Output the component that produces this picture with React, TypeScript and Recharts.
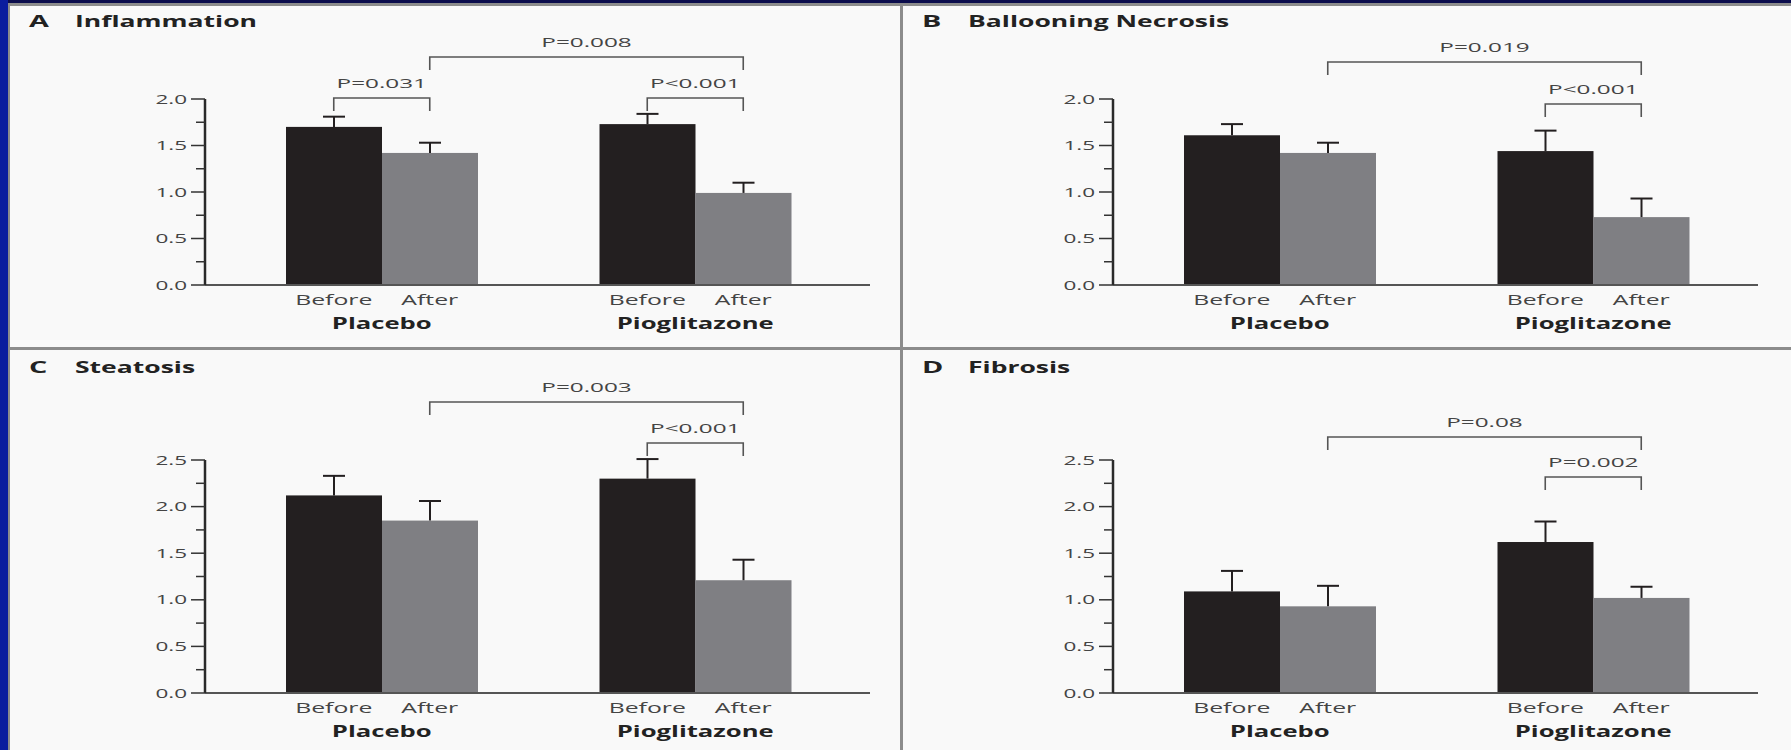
import React from 'react';
import { BarChart, Bar, XAxis, YAxis } from 'recharts';

// group / phase labels
const GROUPS = ['Placebo', 'Pioglitazone'];
const PHASES = ['Before', 'After'];

// mean scores, per group (Placebo, Pioglitazone)
const inflammationBefore = [1.7, 1.73];
const inflammationBeforeErr = [0.11, 0.11];
const inflammationAfter = [1.42, 0.99];
const inflammationAfterErr = [0.11, 0.11];
const inflammationP = ['P=0.031', 'P<0.001', 'P=0.008'];

const ballooningBefore = [1.61, 1.44];
const ballooningBeforeErr = [0.12, 0.22];
const ballooningAfter = [1.42, 0.73];
const ballooningAfterErr = [0.11, 0.2];
const ballooningP = [null, 'P<0.001', 'P=0.019'];

const steatosisBefore = [2.12, 2.3];
const steatosisBeforeErr = [0.21, 0.21];
const steatosisAfter = [1.85, 1.21];
const steatosisAfterErr = [0.21, 0.22];
const steatosisP = [null, 'P<0.001', 'P=0.003'];

const fibrosisBefore = [1.09, 1.62];
const fibrosisBeforeErr = [0.22, 0.22];
const fibrosisAfter = [0.93, 1.02];
const fibrosisAfterErr = [0.22, 0.12];
const fibrosisP = [null, 'P=0.002', 'P=0.08'];

const TICKS_2 = [0, 0.25, 0.5, 0.75, 1, 1.25, 1.5, 1.75, 2];
const TICKS_25 = [0, 0.25, 0.5, 0.75, 1, 1.25, 1.5, 1.75, 2, 2.25, 2.5];

const INK = '#231f20';
const GREY_BAR = '#7f7f83';
const FONT = '"Open Sans", sans-serif';
const SX = 1.8; // horizontal stretch of the lettering
const BAR = 96;
const XAXIS_H = 60;
const YAXIS_W = 60;

const rows = (before: number[], beforeErr: number[], after: number[], afterErr: number[]) =>
  GROUPS.map((group, i) => ({
    group,
    before: before[i],
    beforeErr: beforeErr[i],
    after: after[i],
    afterErr: afterErr[i],
  }));

// bar plus an upward-only error whisker, scaled off the bar's own height
const WhiskerBar = (props: any) => {
  const { x, y, width, height, fill, payload, valueKey, errKey } = props;
  const v = payload[valueKey];
  const err = payload[errKey];
  const k = v ? height / v : 0;
  const top = y - err * k;
  const cx = x + width / 2;
  return (
    <g>
      <rect x={x} y={y} width={width} height={height} fill={fill} />
      <line x1={cx} x2={cx} y1={y} y2={top} stroke={INK} strokeWidth={2} />
      <line x1={cx - 11} x2={cx + 11} y1={top} y2={top} stroke={INK} strokeWidth={2} />
    </g>
  );
};

const YTick = (props: any) => {
  const { x, y, payload } = props;
  const axisX = x + 18;
  const major = Math.round(payload.value * 100) % 50 === 0;
  return (
    <g>
      <line x1={axisX - (major ? 14 : 9)} x2={axisX} y1={y} y2={y} stroke="#333" strokeWidth={1.5} />
      {major && (
        <text
          transform={`translate(${x},${y + 4.5}) scale(${SX},1)`}
          textAnchor="end"
          fontSize={12.5}
          fontFamily={FONT}
          fill="#444"
        >
          {payload.value.toFixed(1)}
        </text>
      )}
    </g>
  );
};

const GroupTick = (props: any) => {
  const { x, y, payload } = props;
  return (
    <g>
      {PHASES.map((ph, i) => (
        <text
          key={ph}
          transform={`translate(${x + (i === 0 ? -BAR / 2 : BAR / 2)},${y + 20}) scale(${SX * 0.95},1)`}
          textAnchor="middle"
          fontSize={14.5}
          fontFamily={FONT}
          fill="#444"
        >
          {ph}
        </text>
      ))}
      <text
        transform={`translate(${x},${y + 44}) scale(${SX * 0.92},1)`}
        textAnchor="middle"
        fontSize={15.5}
        fontWeight={700}
        fontFamily={FONT}
        fill="#222"
      >
        {payload.value}
      </text>
    </g>
  );
};

type PanelProps = {
  letter: string;
  title: string;
  data: ReturnType<typeof rows>;
  pLabels: (string | null)[];
  ticks: number[];
  left: number;
  top: number;
  width: number;
  height: number;
  plotLeft: number;
  plotRight: number;
  plotTop: number;
  plotBottom: number;
  padL: number;
  padR: number;
  titleY: number;
  betweenY: number;
  withinY: number;
};

const Bracket = ({ x1, x2, y, label }: { x1: number; x2: number; y: number; label: string }) => (
  <g>
    <polyline
      points={`${x1},${y + 13} ${x1},${y} ${x2},${y} ${x2},${y + 13}`}
      fill="none"
      stroke="#555"
      strokeWidth={1.6}
    />
    <text
      transform={`translate(${(x1 + x2) / 2},${y - 10}) scale(${SX},1)`}
      textAnchor="middle"
      fontSize={13.5}
      fontFamily={FONT}
      fill="#444"
    >
      {label}
    </text>
  </g>
);

const Panel = (p: PanelProps) => {
  const yMax = p.ticks[p.ticks.length - 1];
  const band = (p.plotRight - p.plotLeft - p.padL - p.padR) / GROUPS.length;
  const barCenter = (g: number, phase: number) =>
    p.plotLeft + p.padL + band * (g + 0.5) + (phase === 0 ? -BAR / 2 : BAR / 2);
  const [withinPlacebo, withinPio, between] = p.pLabels;

  return (
    <div
      style={{
        position: 'absolute',
        left: p.left,
        top: p.top,
        width: p.width,
        height: p.height,
        background: '#f9f9f9',
      }}
    >
      <BarChart
        width={p.width}
        height={p.height}
        data={p.data}
        barGap={0}
        barSize={BAR}
        margin={{
          top: p.plotTop,
          right: p.width - p.plotRight,
          bottom: p.height - p.plotBottom - XAXIS_H,
          left: p.plotLeft - YAXIS_W,
        }}
      >
        <XAxis
          dataKey="group"
          height={XAXIS_H}
          axisLine={{ stroke: '#555', strokeWidth: 2 }}
          tickLine={false}
          tickSize={0}
          tickMargin={0}
          interval={0}
          padding={{ left: p.padL, right: p.padR }}
          tick={<GroupTick />}
        />
        <YAxis
          width={YAXIS_W}
          domain={[0, yMax]}
          ticks={p.ticks}
          interval={0}
          axisLine={{ stroke: '#2a2a2a', strokeWidth: 2.5 }}
          tickLine={false}
          tickSize={14}
          tickMargin={4}
          tick={<YTick />}
        />
        <Bar
          dataKey="before"
          fill={INK}
          isAnimationActive={false}
          shape={(s: any) => <WhiskerBar {...s} valueKey="before" errKey="beforeErr" />}
        />
        <Bar
          dataKey="after"
          fill={GREY_BAR}
          isAnimationActive={false}
          shape={(s: any) => <WhiskerBar {...s} valueKey="after" errKey="afterErr" />}
        />
      </BarChart>
      <svg
        width={p.width}
        height={p.height}
        style={{ position: 'absolute', left: 0, top: 0, pointerEvents: 'none' }}
      >
        <text
          transform={`translate(${19},${p.titleY + 7}) scale(${SX},1)`}
          fontSize={16}
          fontWeight={700}
          fontFamily={FONT}
          fill="#222"
        >
          {p.letter}
        </text>
        <text
          transform={`translate(${65},${p.titleY + 7}) scale(${SX * 0.95},1)`}
          fontSize={15.5}
          fontWeight={700}
          fontFamily={FONT}
          fill="#222"
        >
          {p.title}
        </text>
        {between && (
          <Bracket x1={barCenter(0, 1)} x2={barCenter(1, 1)} y={p.plotTop + p.betweenY} label={between} />
        )}
        {withinPlacebo && (
          <Bracket x1={barCenter(0, 0)} x2={barCenter(0, 1)} y={p.plotTop + p.withinY} label={withinPlacebo} />
        )}
        {withinPio && (
          <Bracket x1={barCenter(1, 0)} x2={barCenter(1, 1)} y={p.plotTop + p.withinY} label={withinPio} />
        )}
      </svg>
    </div>
  );
};

const LEFT_COL = { left: 10, width: 890, plotLeft: 195, plotRight: 860, padL: 20, padR: 18 };
const RIGHT_COL = { left: 903, width: 888, plotLeft: 210, plotRight: 855, padL: 10, padR: 8 };
const TOP_ROW = { top: 6, height: 341, plotTop: 93, plotBottom: 279, titleY: 14 };
const BOTTOM_ROW = { top: 350, height: 400, plotTop: 110, plotBottom: 343, titleY: 16 };

export default function App() {
  return (
    <div
      style={{
        position: 'absolute',
        left: 0,
        top: 0,
        width: 1791,
        height: 750,
        background: '#8c8c8c',
        overflow: 'hidden',
      }}
    >
      <div style={{ position: 'absolute', left: 0, top: 0, width: 1791, height: 3, background: '#0b0c4c' }} />
      <div style={{ position: 'absolute', left: 0, top: 0, width: 8, height: 750, background: '#0b1d9e' }} />
      <Panel
        letter="A"
        title="Inflammation"
        data={rows(inflammationBefore, inflammationBeforeErr, inflammationAfter, inflammationAfterErr)}
        pLabels={inflammationP}
        ticks={TICKS_2}
        {...LEFT_COL}
        {...TOP_ROW}
        betweenY={-42}
        withinY={-1}
      />
      <Panel
        letter="B"
        title="Ballooning Necrosis"
        data={rows(ballooningBefore, ballooningBeforeErr, ballooningAfter, ballooningAfterErr)}
        pLabels={ballooningP}
        ticks={TICKS_2}
        {...RIGHT_COL}
        {...TOP_ROW}
        betweenY={-37}
        withinY={5}
      />
      <Panel
        letter="C"
        title="Steatosis"
        data={rows(steatosisBefore, steatosisBeforeErr, steatosisAfter, steatosisAfterErr)}
        pLabels={steatosisP}
        ticks={TICKS_25}
        {...LEFT_COL}
        {...BOTTOM_ROW}
        betweenY={-58}
        withinY={-17}
      />
      <Panel
        letter="D"
        title="Fibrosis"
        data={rows(fibrosisBefore, fibrosisBeforeErr, fibrosisAfter, fibrosisAfterErr)}
        pLabels={fibrosisP}
        ticks={TICKS_25}
        {...RIGHT_COL}
        {...BOTTOM_ROW}
        betweenY={-23}
        withinY={17}
      />
    </div>
  );
}
